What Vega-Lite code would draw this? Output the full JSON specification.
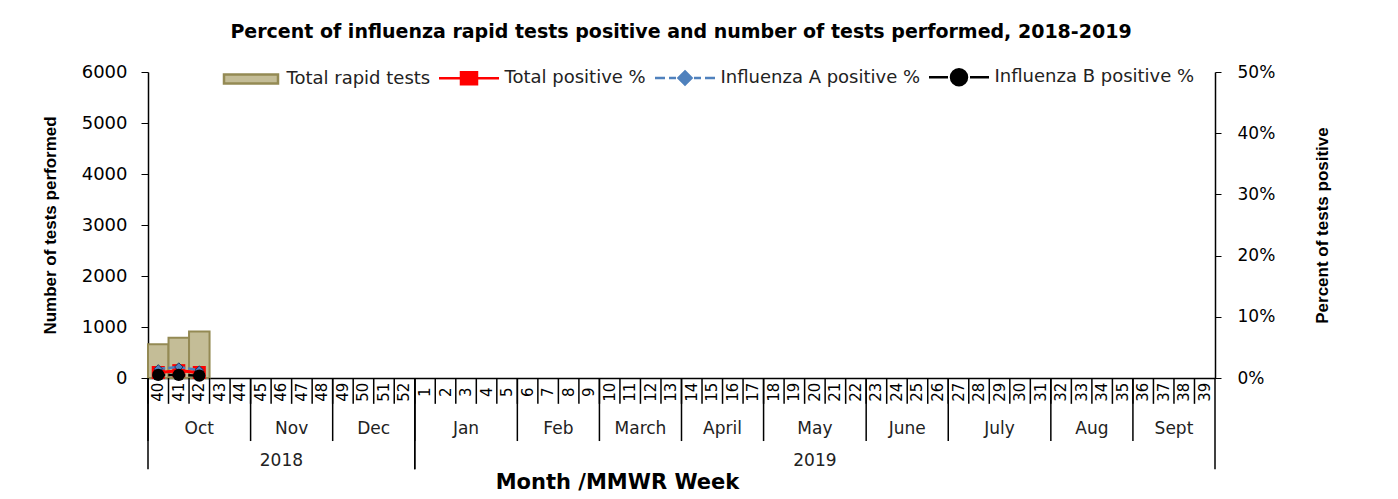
{
  "$schema": "https://vega.github.io/schema/vega-lite/v6.json",
  "padding": {"left": 41, "top": 23, "right": 5, "bottom": 0},
  "config": {"font": "DejaVu Sans", "view": {"stroke": null}, "axis": {"grid": false, "domainColor": "#000", "tickColor": "#000", "labelColor": "#000", "titleColor": "#000"}},
  "title": {"text": "Percent of influenza rapid tests positive and number of tests performed, 2018-2019", "font": "DejaVu Sans", "fontSize": 19, "fontWeight": "bold", "color": "#000", "anchor": "middle", "offset": 21, "dx": -5},
  "spacing": 0,
  "bounds": "flush",
  "datasets": {
    "weeks": [
      {"wk": "40", "tests": 660, "total": 0.9, "fluA": 1.5, "fluB": 0.5},
      {"wk": "41", "tests": 790, "total": 1.2, "fluA": 1.8, "fluB": 0.5},
      {"wk": "42", "tests": 910, "total": 0.9, "fluA": 1.3, "fluB": 0.4},
      {"wk": "43"}, {"wk": "44"}, {"wk": "45"}, {"wk": "46"}, {"wk": "47"}, {"wk": "48"}, {"wk": "49"}, {"wk": "50"}, {"wk": "51"}, {"wk": "52"},
      {"wk": "1"}, {"wk": "2"}, {"wk": "3"}, {"wk": "4"}, {"wk": "5"}, {"wk": "6"}, {"wk": "7"}, {"wk": "8"}, {"wk": "9"}, {"wk": "10"},
      {"wk": "11"}, {"wk": "12"}, {"wk": "13"}, {"wk": "14"}, {"wk": "15"}, {"wk": "16"}, {"wk": "17"}, {"wk": "18"}, {"wk": "19"}, {"wk": "20"},
      {"wk": "21"}, {"wk": "22"}, {"wk": "23"}, {"wk": "24"}, {"wk": "25"}, {"wk": "26"}, {"wk": "27"}, {"wk": "28"}, {"wk": "29"}, {"wk": "30"},
      {"wk": "31"}, {"wk": "32"}, {"wk": "33"}, {"wk": "34"}, {"wk": "35"}, {"wk": "36"}, {"wk": "37"}, {"wk": "38"}, {"wk": "39"}
    ],
    "months": [
      {"month": "Oct", "first": "40", "mid": "42", "odd": true},
      {"month": "Nov", "first": "45", "mid": "47", "odd": false},
      {"month": "Dec", "first": "49", "mid": "51", "odd": false},
      {"month": "Jan", "first": "1", "mid": "3", "odd": true},
      {"month": "Feb", "first": "6", "mid": "8", "odd": false},
      {"month": "March", "first": "10", "mid": "12", "odd": false},
      {"month": "April", "first": "14", "mid": "16", "odd": false},
      {"month": "May", "first": "18", "mid": "20", "odd": true},
      {"month": "June", "first": "23", "mid": "25", "odd": false},
      {"month": "July", "first": "27", "mid": "29", "odd": true},
      {"month": "Aug", "first": "32", "mid": "34", "odd": false},
      {"month": "Sept", "first": "36", "mid": "38", "odd": false}
    ],
    "years": [
      {"year": "2018", "first": "40", "mid": "46", "last": "52"},
      {"year": "2019", "first": "1", "mid": "20", "last": "39"}
    ]
  },
  "vconcat": [
    {
      "width": 1067,
      "height": 306,
      "data": {"name": "weeks"},
      "layer": [
        {
          "mark": {"type": "bar", "stroke": "#948a54", "strokeWidth": 2},
          "encoding": {
            "x": {"field": "wk", "type": "ordinal", "sort": null,
              "scale": {"domain": ["40","41","42","43","44","45","46","47","48","49","50","51","52","1","2","3","4","5","6","7","8","9","10","11","12","13","14","15","16","17","18","19","20","21","22","23","24","25","26","27","28","29","30","31","32","33","34","35","36","37","38","39"], "paddingInner": 0, "paddingOuter": 0},
              "axis": {"domain": true, "domainWidth": 1.5, "labels": false, "ticks": false, "title": null}},
            "y": {"field": "tests", "type": "quantitative", "scale": {"domain": [0, 6000], "nice": false},
              "axis": {"title": "Number of tests performed", "values": [0, 1000, 2000, 3000, 4000, 5000, 6000], "format": "d", "labelFontSize": 18, "labelPadding": 14, "tickSize": 7, "domainWidth": 1.5, "titleFont": "Liberation Sans", "titleFontSize": 17, "titleFontWeight": "bold", "titlePadding": 22}},
            "color": {"datum": "Total rapid tests", "type": "nominal",
              "scale": {"domain": ["Total positive %", "Influenza A positive %", "Influenza B positive %", "Total rapid tests"], "range": ["#ff0000", "#4f81bd", "#000000", "#c4bd97"]},
              "legend": null}
          }
        },
        {
          "transform": [{"filter": "false"}],
          "mark": {"type": "point", "filled": true, "opacity": 1},
          "encoding": {
            "fill": {"datum": "Total rapid tests", "type": "nominal",
              "scale": {"domain": ["Total rapid tests", "Total positive %", "Influenza A positive %", "Influenza B positive %"], "range": ["#c4bd97", "#ff0000", "#4f81bd", "#000000"]},
              "legend": {"title": null, "orient": "none", "legendX": 91.5, "legendY": -6.5, "direction": "horizontal", "labelFontSize": 18, "labelColor": "#222", "labelLimit": 0, "symbolSize": 400, "symbolStrokeWidth": 2.5, "symbolOpacity": 1, "labelOffset": 24, "columnPadding": 3, "padding": 0}},
            "stroke": {"datum": "Total rapid tests", "type": "nominal",
              "scale": {"domain": ["Total rapid tests", "Total positive %", "Influenza A positive %", "Influenza B positive %"], "range": ["#948a54", "#ff0000", "#4f81bd", "#000000"]},
              "legend": {"title": null, "orient": "none", "legendX": 91.5, "legendY": -6.5, "direction": "horizontal", "labelFontSize": 18, "labelColor": "#222", "labelLimit": 0, "symbolSize": 400, "symbolStrokeWidth": 2.5, "symbolOpacity": 1, "labelOffset": 24, "columnPadding": 3, "padding": 0}},
            "shape": {"datum": "Total rapid tests", "type": "nominal",
              "scale": {"domain": ["Total rapid tests", "Total positive %", "Influenza A positive %", "Influenza B positive %"], "range": ["M-2.7,-0.45H2.7V0.45H-2.7Z", "M-3,0H3M-0.8,-0.6H0.8V0.6H-0.8Z", "M-3,0H-2M-1.6,0H-0.9M0.9,0H1.6M2,0H3M0,-0.65L0.65,0L0,0.65L-0.65,0Z", "M-3,0H-1.1M1.1,0H3M-0.8,0A0.8,0.8 0 1,0 0.8,0A0.8,0.8 0 1,0 -0.8,0Z"]},
              "legend": {"title": null, "orient": "none", "legendX": 91.5, "legendY": -6.5, "direction": "horizontal", "labelFontSize": 18, "labelColor": "#222", "labelLimit": 0, "symbolSize": 400, "symbolStrokeWidth": 2.5, "symbolOpacity": 1, "labelOffset": 24, "columnPadding": 3, "padding": 0}}
          }
        },
        {
          "encoding": {
            "x": {"field": "wk", "type": "ordinal", "sort": null},
            "y": {"type": "quantitative", "scale": {"domain": [0, 50], "nice": false},
              "axis": {"orient": "right", "title": "Percent of tests positive", "values": [0, 10, 20, 30, 40, 50], "labelExpr": "datum.value + '%'", "labelFontSize": 17, "labelPadding": 16, "tickSize": 6, "domainWidth": 1.5, "titleFont": "Liberation Sans", "titleFontSize": 17, "titleFontWeight": "bold", "titlePadding": 57, "titleAngle": 270}}
          },
          "layer": [
            {
              "mark": {"type": "line", "strokeWidth": 3, "point": {"shape": "square", "size": 170, "filled": true}},
              "encoding": {"y": {"field": "total", "type": "quantitative"}, "color": {"datum": "Total positive %", "type": "nominal"}}
            },
            {
              "mark": {"type": "line", "strokeWidth": 2.5, "strokeDash": [7, 3], "point": {"shape": "diamond", "size": 70, "filled": true, "stroke": "#1f3864", "strokeWidth": 1}},
              "encoding": {"y": {"field": "fluA", "type": "quantitative"}, "color": {"datum": "Influenza A positive %", "type": "nominal"}}
            },
            {
              "mark": {"type": "line", "strokeWidth": 2.5, "strokeDash": [7, 3], "point": {"shape": "circle", "size": 150, "filled": true}},
              "encoding": {"y": {"field": "fluB", "type": "quantitative"}, "color": {"datum": "Influenza B positive %", "type": "nominal"}}
            }
          ]
        }
      ],
      "resolve": {"scale": {"y": "independent"}, "axis": {"y": "independent"}}
    },
    {
      "width": 1067,
      "height": 93,
      "layer": [
        {
          "data": {"name": "weeks"},
          "mark": {"type": "rule", "color": "#000", "strokeWidth": 1.5},
          "encoding": {
            "x": {"field": "wk", "type": "ordinal", "sort": null, "bandPosition": 0,
              "scale": {"domain": ["40","41","42","43","44","45","46","47","48","49","50","51","52","1","2","3","4","5","6","7","8","9","10","11","12","13","14","15","16","17","18","19","20","21","22","23","24","25","26","27","28","29","30","31","32","33","34","35","36","37","38","39"], "paddingInner": 0, "paddingOuter": 0},
              "axis": {"domain": false, "ticks": false, "labels": false, "title": "Month /MMWR Week", "titleFont": "DejaVu Sans", "titleFontSize": 21, "titleFontWeight": "bold", "titlePadding": 0, "titleX": 469}},
            "y": {"datum": 0, "type": "quantitative", "scale": {"domain": [0, 3.6], "nice": false, "reverse": true}, "axis": null},
            "y2": {"datum": 1}
          }
        },
        {
          "data": {"name": "months"},
          "mark": {"type": "rule", "color": "#000", "strokeWidth": 1.5},
          "encoding": {
            "x": {"field": "first", "type": "ordinal", "sort": null, "bandPosition": 0},
            "y": {"datum": 0, "type": "quantitative"},
            "y2": {"datum": 2.44}
          }
        },
        {
          "data": {"name": "years"},
          "mark": {"type": "rule", "color": "#000", "strokeWidth": 1.5},
          "encoding": {
            "x": {"field": "first", "type": "ordinal", "sort": null, "bandPosition": 0},
            "y": {"datum": 0, "type": "quantitative"},
            "y2": {"datum": 3.53}
          }
        },
        {
          "data": {"name": "years"},
          "mark": {"type": "rule", "color": "#000", "strokeWidth": 1.5},
          "encoding": {
            "x": {"field": "last", "type": "ordinal", "sort": null, "bandPosition": 1},
            "y": {"datum": 0, "type": "quantitative"},
            "y2": {"datum": 3.53}
          }
        },
        {
          "data": {"name": "weeks"},
          "mark": {"type": "text", "angle": 270, "fontSize": 15, "align": "center", "baseline": "middle", "color": "#000"},
          "encoding": {
            "x": {"field": "wk", "type": "ordinal", "sort": null},
            "y": {"datum": 0.55, "type": "quantitative"},
            "text": {"field": "wk"}
          }
        },
        {
          "data": {"name": "months"},
          "transform": [{"filter": "datum.odd"}],
          "mark": {"type": "text", "fontSize": 17, "align": "center", "baseline": "middle", "color": "#222"},
          "encoding": {
            "x": {"field": "mid", "type": "ordinal", "sort": null, "bandPosition": 0.5},
            "y": {"datum": 1.98, "type": "quantitative"},
            "text": {"field": "month"}
          }
        },
        {
          "data": {"name": "months"},
          "transform": [{"filter": "!datum.odd"}],
          "mark": {"type": "text", "fontSize": 17, "align": "center", "baseline": "middle", "color": "#222"},
          "encoding": {
            "x": {"field": "mid", "type": "ordinal", "sort": null, "bandPosition": 0},
            "y": {"datum": 1.98, "type": "quantitative"},
            "text": {"field": "month"}
          }
        },
        {
          "data": {"name": "years"},
          "mark": {"type": "text", "fontSize": 17, "align": "center", "baseline": "middle", "color": "#222"},
          "encoding": {
            "x": {"field": "mid", "type": "ordinal", "sort": null, "bandPosition": 0.5},
            "y": {"datum": 3.2, "type": "quantitative"},
            "text": {"field": "year"}
          }
        }
      ]
    }
  ]
}
